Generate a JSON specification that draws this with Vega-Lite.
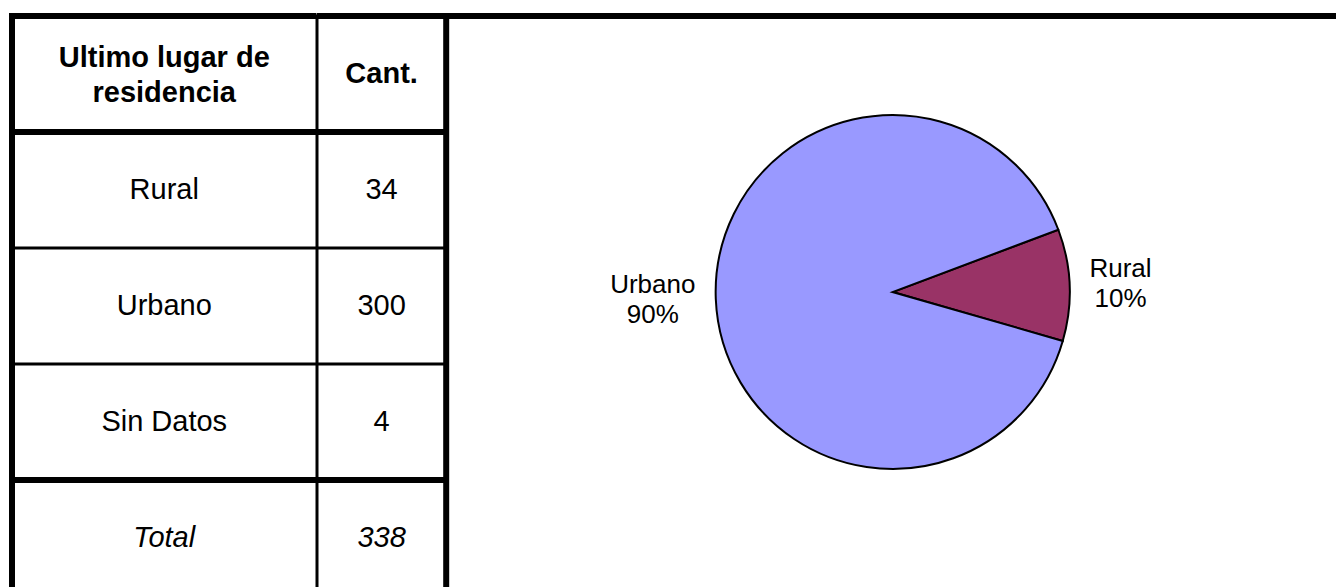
{
  "$schema": "https://vega.github.io/schema/vega-lite/v6.json",
  "background": "white",
  "padding": {"left": 7, "top": 11, "right": 0, "bottom": 0},
  "spacing": 0,
  "bounds": "flush",
  "config": {"view": {"stroke": null}, "text": {"font": "Liberation Sans", "color": "black"}, "concat": {"spacing": 0}},
  "datasets": {
    "tabla": [
      {"lugar": "Ultimo lugar de\nresidencia", "cant": "Cant.", "seccion": "encabezado"},
      {"lugar": "Rural", "cant": 34, "seccion": "cuerpo", "pct": "10%"},
      {"lugar": "Urbano", "cant": 300, "seccion": "cuerpo", "pct": "90%"},
      {"lugar": "Sin Datos", "cant": 4, "seccion": "cuerpo"},
      {"lugar": "Total", "cant": 338, "seccion": "total"}
    ]
  },
  "hconcat": [
    {
      "width": 304.5,
      "height": 570,
      "data": {"name": "tabla"},
      "layer": [
        {"data": {"values": [{}]}, "mark": {"type": "rule", "color": "black", "strokeWidth": 6, "strokeCap": "square"}, "encoding": {"x": {"value": 0}}},
        {"transform": [{"filter": {"not": {"field": "lugar", "oneOf": ["Urbano", "Sin Datos"]}}}], "mark": {"type": "rule", "color": "black", "strokeWidth": 6}, "encoding": {"y": {"field": "lugar", "type": "nominal", "bandPosition": 0, "axis": null, "scale": {"domain": ["Ultimo lugar de\nresidencia", "Rural", "Urbano", "Sin Datos", "Total"], "range": [0, 580], "paddingInner": 0, "paddingOuter": 0}}}},
        {"transform": [{"filter": {"field": "lugar", "oneOf": ["Urbano", "Sin Datos"]}}], "mark": {"type": "rule", "color": "black", "strokeWidth": 3}, "encoding": {"y": {"field": "lugar", "type": "nominal", "bandPosition": 0, "axis": null}}},
        {"transform": [{"filter": {"field": "seccion", "equal": "encabezado"}}], "mark": {"type": "text", "fontSize": 29, "fontWeight": "bold", "lineBreak": "\n", "lineHeight": 35, "dy": -16}, "encoding": {"y": {"field": "lugar", "type": "nominal", "axis": null}, "text": {"field": "lugar", "type": "nominal"}}},
        {"transform": [{"filter": {"field": "seccion", "equal": "cuerpo"}}], "mark": {"type": "text", "fontSize": 29}, "encoding": {"y": {"field": "lugar", "type": "nominal", "axis": null}, "text": {"field": "lugar", "type": "nominal"}}},
        {"transform": [{"filter": {"field": "seccion", "equal": "total"}}], "mark": {"type": "text", "fontSize": 29, "fontStyle": "italic"}, "encoding": {"y": {"field": "lugar", "type": "nominal", "axis": null}, "text": {"field": "lugar", "type": "nominal"}}}
      ]
    },
    {
      "width": 129.2,
      "height": 570,
      "data": {"name": "tabla"},
      "layer": [
        {"data": {"values": [{}]}, "mark": {"type": "rule", "color": "black", "strokeWidth": 3, "strokeCap": "square"}, "encoding": {"x": {"value": 0}}},
        {"data": {"values": [{}]}, "mark": {"type": "rule", "color": "black", "strokeWidth": 6, "strokeCap": "square"}, "encoding": {"x": {"value": "width"}}},
        {"transform": [{"filter": {"not": {"field": "lugar", "oneOf": ["Urbano", "Sin Datos"]}}}], "mark": {"type": "rule", "color": "black", "strokeWidth": 6}, "encoding": {"y": {"field": "lugar", "type": "nominal", "bandPosition": 0, "axis": null, "scale": {"domain": ["Ultimo lugar de\nresidencia", "Rural", "Urbano", "Sin Datos", "Total"], "range": [0, 580], "paddingInner": 0, "paddingOuter": 0}}}},
        {"transform": [{"filter": {"field": "lugar", "oneOf": ["Urbano", "Sin Datos"]}}], "mark": {"type": "rule", "color": "black", "strokeWidth": 3}, "encoding": {"y": {"field": "lugar", "type": "nominal", "bandPosition": 0, "axis": null}}},
        {"transform": [{"filter": {"field": "seccion", "equal": "encabezado"}}], "mark": {"type": "text", "fontSize": 29, "fontWeight": "bold"}, "encoding": {"y": {"field": "lugar", "type": "nominal", "axis": null}, "text": {"field": "cant", "type": "nominal"}}},
        {"transform": [{"filter": {"field": "seccion", "equal": "cuerpo"}}], "mark": {"type": "text", "fontSize": 29}, "encoding": {"y": {"field": "lugar", "type": "nominal", "axis": null}, "text": {"field": "cant", "type": "nominal"}}},
        {"transform": [{"filter": {"field": "seccion", "equal": "total"}}], "mark": {"type": "text", "fontSize": 29, "fontStyle": "italic"}, "encoding": {"y": {"field": "lugar", "type": "nominal", "axis": null}, "text": {"field": "cant", "type": "nominal"}}}
      ]
    },
    {
      "width": 889.3,
      "height": 552,
      "layer": [
        {"data": {"values": [{}]}, "mark": {"type": "rule", "color": "black", "strokeWidth": 6, "strokeCap": "square"}, "encoding": {"y": {"value": 0}}},
        {
          "data": {"name": "tabla"},
          "transform": [{"filter": {"field": "lugar", "oneOf": ["Rural", "Urbano"]}}],
          "encoding": {"theta": {"field": "cant", "type": "quantitative", "stack": true, "scale": {"range": [1.2113, 7.4945]}}},
          "layer": [
            {"mark": {"type": "arc", "outerRadius": 177, "stroke": "black", "strokeWidth": 2, "xOffset": 1}, "encoding": {"color": {"field": "lugar", "type": "nominal", "scale": {"domain": ["Rural", "Urbano"], "range": ["#993366", "#9999FF"]}, "legend": null}}},
            {"mark": {"type": "text", "radius": 197, "fontSize": 26, "dy": -15, "xOffset": 1, "dx": {"expr": "datum.lugar === 'Rural' ? 31 : -43"}}, "encoding": {"detail": {"field": "lugar", "type": "nominal"}, "text": {"field": "lugar", "type": "nominal"}}},
            {"mark": {"type": "text", "radius": 197, "fontSize": 26, "dy": 15, "xOffset": 1, "dx": {"expr": "datum.lugar === 'Rural' ? 31 : -43"}}, "encoding": {"detail": {"field": "lugar", "type": "nominal"}, "text": {"field": "pct", "type": "nominal"}}}
          ]
        }
      ]
    }
  ]
}
